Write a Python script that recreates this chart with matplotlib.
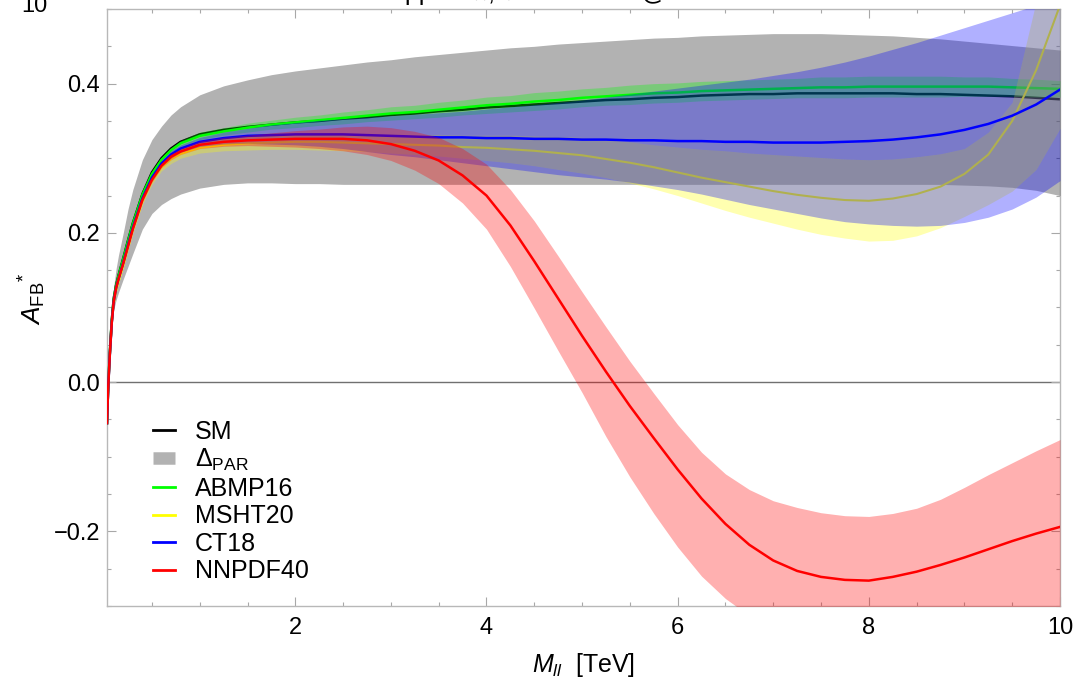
import numpy as np
import matplotlib
matplotlib.use("Agg")
import matplotlib.pyplot as plt
from matplotlib.lines import Line2D
from matplotlib.ticker import MultipleLocator

plt.rcParams['font.family'] = ['Liberation Sans', 'DejaVu Sans']
plt.rcParams['mathtext.fontset'] = 'custom'
plt.rcParams['mathtext.rm'] = 'Liberation Sans'
plt.rcParams['mathtext.it'] = 'Liberation Sans:italic'
plt.rcParams['mathtext.bf'] = 'Liberation Sans:bold'

# dilepton invariant mass [TeV]
mll = [0.03, 0.04, 0.05, 0.06, 0.08, 0.1, 0.125, 0.15, 0.2, 0.25,
       0.3, 0.4, 0.5, 0.6, 0.7, 0.8, 1.0, 1.25, 1.5, 1.75,
       2.0, 2.25, 2.5, 2.75, 3.0, 3.25, 3.5, 3.75, 4.0, 4.25, 4.5,
       4.75, 5.0, 5.25, 5.5, 5.75, 6.0, 6.25, 6.5, 6.75, 7.0, 7.25,
       7.5, 7.75, 8.0, 8.25, 8.5, 8.75, 9.0, 9.25, 9.5, 9.75, 10.0]

sm = [-0.055, -0.015, 0.015, 0.04, 0.083, 0.112, 0.13, 0.143, 0.166, 0.19,
      0.213, 0.252, 0.281, 0.3, 0.313, 0.322, 0.332, 0.338, 0.342, 0.345,
      0.348, 0.350, 0.353, 0.355, 0.358, 0.360, 0.363, 0.365, 0.368, 0.370, 0.372,
      0.374, 0.376, 0.378, 0.379, 0.381, 0.382, 0.384, 0.385, 0.386, 0.386, 0.387,
      0.387, 0.387, 0.387, 0.387, 0.386, 0.386, 0.385, 0.384, 0.383, 0.381, 0.379]

# Delta_PAR band around the SM
par_lo = [-0.055, -0.018, 0.01, 0.033, 0.072, 0.097, 0.11, 0.12, 0.138, 0.155,
          0.172, 0.205, 0.226, 0.238, 0.246, 0.252, 0.26, 0.265, 0.267, 0.267,
          0.266, 0.266, 0.265, 0.265, 0.265, 0.265, 0.265, 0.265, 0.265, 0.265, 0.265,
          0.265, 0.265, 0.265, 0.265, 0.265, 0.265, 0.265, 0.265, 0.265, 0.265, 0.265,
          0.265, 0.265, 0.265, 0.265, 0.265, 0.265, 0.264, 0.263, 0.261, 0.257, 0.25]
par_hi = [-0.055, -0.012, 0.02, 0.048, 0.095, 0.128, 0.152, 0.17, 0.2, 0.232,
          0.258, 0.298, 0.325, 0.343, 0.358, 0.369, 0.385, 0.397, 0.405, 0.412,
          0.417, 0.421, 0.425, 0.429, 0.432, 0.436, 0.439, 0.442, 0.445, 0.448, 0.450,
          0.453, 0.455, 0.457, 0.459, 0.461, 0.462, 0.464, 0.465, 0.466, 0.467, 0.467,
          0.467, 0.466, 0.465, 0.464, 0.462, 0.460, 0.457, 0.454, 0.451, 0.448, 0.445]

abmp16 = [-0.055, -0.015, 0.015, 0.04, 0.083, 0.111, 0.129, 0.142, 0.165, 0.189,
          0.212, 0.251, 0.279, 0.298, 0.311, 0.320, 0.330, 0.336, 0.341, 0.345,
          0.348, 0.351, 0.354, 0.357, 0.360, 0.362, 0.365, 0.368, 0.371, 0.373, 0.376,
          0.378, 0.381, 0.383, 0.385, 0.387, 0.388, 0.390, 0.391, 0.392, 0.393, 0.394,
          0.395, 0.395, 0.396, 0.396, 0.396, 0.396, 0.396, 0.396, 0.395, 0.394, 0.393]
abmp16_err = [0, 0, 0, 0, 0.001, 0.001, 0.001, 0.002, 0.002, 0.002,
              0.002, 0.002, 0.002, 0.003, 0.003, 0.004, 0.005, 0.005, 0.006, 0.006,
              0.007, 0.007, 0.008, 0.008, 0.009, 0.009, 0.010, 0.010, 0.011, 0.011, 0.012,
              0.012, 0.012, 0.012, 0.013, 0.013, 0.013, 0.013, 0.013, 0.013, 0.013, 0.013,
              0.014, 0.014, 0.014, 0.014, 0.014, 0.014, 0.013, 0.013, 0.012, 0.012, 0.011]

msht20 = [-0.055, -0.017, 0.012, 0.036, 0.078, 0.105, 0.122, 0.134, 0.156, 0.18,
          0.203, 0.242, 0.27, 0.288, 0.299, 0.306, 0.314, 0.318, 0.320, 0.321,
          0.322, 0.322, 0.321, 0.320, 0.319, 0.318, 0.317, 0.315, 0.314, 0.312, 0.310,
          0.307, 0.304, 0.299, 0.294, 0.288, 0.281, 0.274, 0.268, 0.262, 0.256, 0.251,
          0.247, 0.244, 0.243, 0.246, 0.252, 0.262, 0.279, 0.305, 0.35, 0.418, 0.505]
msht20_lo = [-0.055, -0.017, 0.012, 0.036, 0.077, 0.104, 0.121, 0.132, 0.154, 0.177,
             0.2, 0.238, 0.265, 0.283, 0.293, 0.3, 0.307, 0.31, 0.311, 0.312,
             0.312, 0.311, 0.31, 0.309, 0.307, 0.305, 0.303, 0.300, 0.297, 0.294, 0.290,
             0.285, 0.280, 0.274, 0.267, 0.259, 0.250, 0.240, 0.230, 0.221, 0.213, 0.205,
             0.198, 0.193, 0.189, 0.19, 0.196, 0.207, 0.222, 0.238, 0.256, 0.285, 0.34]
msht20_hi = [-0.055, -0.017, 0.012, 0.036, 0.079, 0.106, 0.123, 0.136, 0.158, 0.183,
             0.206, 0.246, 0.275, 0.293, 0.305, 0.312, 0.321, 0.326, 0.329, 0.331,
             0.332, 0.332, 0.332, 0.332, 0.332, 0.332, 0.332, 0.331, 0.331, 0.331, 0.330,
             0.329, 0.328, 0.325, 0.322, 0.318, 0.315, 0.312, 0.31, 0.307, 0.305, 0.303,
             0.301, 0.299, 0.298, 0.299, 0.302, 0.306, 0.313, 0.335, 0.375, 0.51, 0.62]

ct18 = [-0.055, -0.016, 0.013, 0.038, 0.08, 0.108, 0.126, 0.138, 0.160, 0.184,
        0.207, 0.246, 0.274, 0.293, 0.305, 0.313, 0.322, 0.327, 0.33, 0.331,
        0.332, 0.332, 0.332, 0.331, 0.330, 0.329, 0.328, 0.328, 0.327, 0.327, 0.326,
        0.326, 0.325, 0.325, 0.324, 0.324, 0.323, 0.323, 0.322, 0.322, 0.321, 0.321,
        0.321, 0.322, 0.323, 0.325, 0.328, 0.332, 0.338, 0.346, 0.357, 0.372, 0.392]
ct18_lo = [-0.055, -0.016, 0.013, 0.038, 0.079, 0.107, 0.125, 0.137, 0.158, 0.182,
           0.205, 0.243, 0.271, 0.289, 0.300, 0.308, 0.316, 0.319, 0.32, 0.319,
           0.318, 0.316, 0.313, 0.309, 0.305, 0.302, 0.298, 0.294, 0.29, 0.286, 0.282,
           0.278, 0.275, 0.272, 0.268, 0.263, 0.258, 0.252, 0.245, 0.238, 0.232, 0.226,
           0.22, 0.215, 0.212, 0.21, 0.209, 0.21, 0.214, 0.221, 0.232, 0.248, 0.27]
ct18_hi = [-0.055, -0.016, 0.013, 0.038, 0.081, 0.109, 0.127, 0.139, 0.162, 0.186,
           0.209, 0.249, 0.277, 0.297, 0.31, 0.318, 0.328, 0.335, 0.34, 0.345,
           0.348, 0.351, 0.353, 0.355, 0.357, 0.359, 0.361, 0.363, 0.366, 0.369, 0.372,
           0.375, 0.378, 0.382, 0.386, 0.390, 0.394, 0.398, 0.402, 0.406, 0.411, 0.416,
           0.422, 0.429, 0.437, 0.446, 0.455, 0.465, 0.475, 0.485, 0.495, 0.505, 0.515]

nnpdf40 = [-0.055, -0.016, 0.013, 0.038, 0.08, 0.108, 0.126, 0.138, 0.159, 0.182,
           0.205, 0.244, 0.271, 0.29, 0.302, 0.309, 0.318, 0.322, 0.324, 0.325,
           0.326, 0.326, 0.326, 0.324, 0.319, 0.31, 0.297, 0.277, 0.25, 0.21, 0.162,
           0.112, 0.062, 0.014, -0.032, -0.075, -0.117, -0.156, -0.19, -0.218, -0.239, -0.253,
           -0.261, -0.265, -0.266, -0.261, -0.254, -0.245, -0.235, -0.224, -0.213, -0.203, -0.194]
nnpdf40_lo = [-0.055, -0.016, 0.013, 0.038, 0.079, 0.107, 0.125, 0.137, 0.157, 0.18,
              0.203, 0.241, 0.268, 0.287, 0.298, 0.305, 0.313, 0.316, 0.317, 0.316,
              0.315, 0.313, 0.31, 0.305, 0.297, 0.284, 0.266, 0.24, 0.205, 0.155, 0.099,
              0.042, -0.014, -0.073, -0.127, -0.176, -0.221, -0.26, -0.29, -0.313, -0.331, -0.345,
              -0.353, -0.357, -0.358, -0.353, -0.346, -0.338, -0.33, -0.324, -0.318, -0.314, -0.311]
nnpdf40_hi = [-0.055, -0.016, 0.013, 0.038, 0.081, 0.109, 0.127, 0.139, 0.161, 0.184,
              0.207, 0.247, 0.274, 0.293, 0.306, 0.313, 0.323, 0.328, 0.331, 0.334,
              0.337, 0.339, 0.342, 0.343, 0.341, 0.336, 0.328, 0.313, 0.292, 0.258, 0.216,
              0.169, 0.121, 0.074, 0.028, -0.015, -0.057, -0.094, -0.123, -0.144, -0.159, -0.168,
              -0.175, -0.179, -0.18, -0.176, -0.169, -0.157, -0.141, -0.124, -0.108, -0.092, -0.077]

x = np.array(mll)

fig = plt.figure(figsize=(10.75, 6.78), dpi=100)
ax = fig.add_axes([107/1075, 72/678, 953/1075, 597/678])

ax.axhline(0, color='#707070', lw=1.0, zorder=1)

ax.plot(x, sm, color='black', lw=1.8, zorder=2)
ax.fill_between(x, par_lo, par_hi, color='black', alpha=0.3, lw=0, zorder=3)

ab = np.array(abmp16)
ab_err = np.array(abmp16_err)
ax.fill_between(x, ab - ab_err, ab + ab_err, color='#00ff00', alpha=0.31, lw=0, zorder=4)
ax.plot(x, ab, color='#00ff00', lw=1.8, zorder=4.1)

ax.fill_between(x, msht20_lo, msht20_hi, color='#ffff00', alpha=0.31, lw=0, zorder=5)
ax.plot(x, msht20, color='#ffff00', lw=1.5, zorder=5.1)

ax.fill_between(x, ct18_lo, ct18_hi, color='#0000ff', alpha=0.31, lw=0, zorder=6)
ax.plot(x, ct18, color='#0000ff', lw=1.8, zorder=6.1)

ax.fill_between(x, nnpdf40_lo, nnpdf40_hi, color='#ff0000', alpha=0.31, lw=0, zorder=7)
ax.plot(x, nnpdf40, color='#ff0000', lw=1.8, zorder=7.1)

ax.set_xlim(0.03, 10)
ax.set_ylim(-0.3, 0.5)
ax.xaxis.set_major_locator(MultipleLocator(2))
ax.xaxis.set_minor_locator(MultipleLocator(0.5))
ax.yaxis.set_major_locator(MultipleLocator(0.2))
ax.yaxis.set_minor_locator(MultipleLocator(0.05))
ax.tick_params(which='both', direction='in', top=True, right=True,
               color='#a8a8a8', labelcolor='black', labelsize=17, width=0.8)
ax.tick_params(which='major', length=6.5)
ax.tick_params(which='minor', length=3)
ax.tick_params(axis='x', pad=8)
ax.tick_params(axis='y', pad=5)
for s in ax.spines.values():
    s.set_color('#b8b8b8')
    s.set_linewidth(1.0)

ax.set_xlabel(r'$M_{ll}$  [TeV]', fontsize=18)
ax.xaxis.set_label_coords(0.5, -0.075)
ax.set_ylabel(r'$A_{\mathrm{FB}}{}^{*}$', fontsize=19)
ax.yaxis.set_label_coords(-0.062, 0.515)

handles = [
    Line2D([], [], color='black', lw=2),
    Line2D([], [], color='#b2b2b2', lw=9, solid_capstyle='butt'),
    Line2D([], [], color='#00ff00', lw=2),
    Line2D([], [], color='#ffff00', lw=2),
    Line2D([], [], color='#0000ff', lw=2),
    Line2D([], [], color='#ff0000', lw=2),
]
labels = ['SM', r'$\Delta_{\mathrm{PAR}}$', 'ABMP16', 'MSHT20', 'CT18', 'NNPDF40']
leg = ax.legend(handles, labels, loc='upper left', bbox_to_anchor=(0.048, 0.312),
                fontsize=18, frameon=False, handlelength=0.9, handletextpad=0.8,
                labelspacing=0.14, borderpad=0, borderaxespad=0)
leg.set_zorder(10)

# clipped remnants at the top edge of the original image
fig.text(405/1075, 1.0, 'pp → ℓℓ, √s = 14 TeV @ LHC', fontsize=18, va='baseline', ha='left')
fig.text(21/1075, 1 - 12/678, '10', fontsize=17, va='baseline', ha='left')

fig.savefig('out.png', dpi=100)
